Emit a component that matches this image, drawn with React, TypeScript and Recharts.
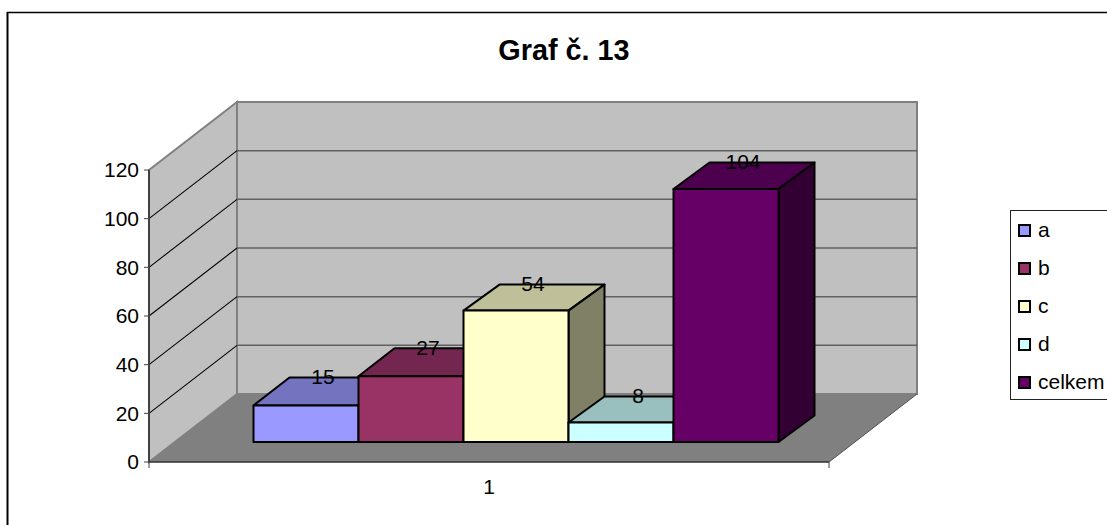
import React from 'react';
import { Bar, BarChart, CartesianGrid, LabelList, Legend, XAxis, YAxis, usePlotArea } from 'recharts';

const categories = ['1'];
const seriesNames = ['a', 'b', 'c', 'd', 'celkem'];
const seriesValues = [15, 27, 54, 8, 104];
const yTicks = [0, 20, 40, 60, 80, 100, 120];

const frontColors = ['#9999FF', '#993366', '#FFFFCC', '#CCFFFF', '#660066'];
const topColors = ['#7373BF', '#732650', '#BFBF99', '#99BFBF', '#4D004D'];
const sideColors = ['#4D4D80', '#4D1A33', '#808066', '#668080', '#330033'];

const rows = categories.map((name) => {
  const row: Record<string, any> = { name };
  seriesNames.forEach((s, i) => {
    row[s] = seriesValues[i];
  });
  return row;
});

const FONT = '"Liberation Sans", Arial, sans-serif';

// oblique projection of the Excel 3D box
const WALL_DX = 88;
const WALL_DY = 68;
const BAR_SHIFT_X = 26;
const BAR_SHIFT_Y = 20;
const BAR_DX = 36;
// the first two boxes come out a bit deeper in the original
const barDepths = [28, 28, 26, 26, 26.5];

const pts = (list: number[][]) => list.map((p) => p.join(',')).join(' ');

const Walls = () => {
  const plot = usePlotArea();
  if (!plot) return null;
  const left = plot.x;
  const right = plot.x + plot.width;
  const top = plot.y;
  const bottom = plot.y + plot.height;
  return (
    <g>
      <polygon
        points={pts([[left, top], [left + WALL_DX, top - WALL_DY], [left + WALL_DX, bottom - WALL_DY], [left, bottom]])}
        fill="#C0C0C0"
        stroke="#808080"
        strokeWidth={2}
      />
      <polygon
        points={pts([[left + WALL_DX, top - WALL_DY], [right + WALL_DX, top - WALL_DY], [right + WALL_DX, bottom - WALL_DY], [left + WALL_DX, bottom - WALL_DY]])}
        fill="#C0C0C0"
        stroke="#808080"
        strokeWidth={2}
      />
      <polygon
        points={pts([[left, bottom], [left + WALL_DX, bottom - WALL_DY], [right + WALL_DX, bottom - WALL_DY], [right, bottom]])}
        fill="#808080"
      />
      <line x1={right} y1={bottom} x2={right + WALL_DX} y2={bottom - WALL_DY} stroke="#505050" strokeWidth={1} />
      <line x1={left} y1={bottom} x2={left} y2={bottom + 6} stroke="#404040" strokeWidth={1} />
      <line x1={right} y1={bottom} x2={right} y2={bottom + 6} stroke="#404040" strokeWidth={1} />
    </g>
  );
};

const renderGridLine = (props: any) => {
  const { x1, x2, y1 } = props;
  // the floor and the top edge are already drawn by the walls
  if (props.index === 0 || props.index === yTicks.length - 1) return <g key={props.key} />;
  return (
    <g key={props.key}>
      <line x1={x1} y1={y1} x2={x1 + WALL_DX} y2={y1 - WALL_DY} stroke="#000" strokeWidth={1.1} />
      <line x1={x1 + WALL_DX} y1={y1 - WALL_DY} x2={x2 + WALL_DX} y2={y1 - WALL_DY} stroke="#606060" strokeWidth={1.5} />
    </g>
  );
};

const makeBox = (i: number) => (props: any) => {
  const { x, y, width, height } = props;
  const fx = x + BAR_SHIFT_X;
  const fy = y - BAR_SHIFT_Y;
  const dy = barDepths[i];
  const line = { stroke: '#000', strokeWidth: 2, strokeLinejoin: 'round' as const };
  return (
    <g>
      <polygon
        points={pts([[fx, fy], [fx + BAR_DX, fy - dy], [fx + width + BAR_DX, fy - dy], [fx + width, fy]])}
        fill={topColors[i]}
        {...line}
      />
      <polygon
        points={pts([[fx + width, fy], [fx + width + BAR_DX, fy - dy], [fx + width + BAR_DX, fy + height - dy], [fx + width, fy + height]])}
        fill={sideColors[i]}
        {...line}
      />
      <rect x={fx} y={fy} width={width} height={height} fill={frontColors[i]} {...line} />
    </g>
  );
};

const makeValue = (i: number) => (props: any) => {
  const { x, y, width, value } = props;
  return (
    <text
      x={x + width / 2 + BAR_SHIFT_X + BAR_DX / 2 - 1}
      y={y - BAR_SHIFT_Y - barDepths[i] - 1}
      textAnchor="middle"
      dominantBaseline="central"
      fontFamily={FONT}
      fontSize={21}
      fill="#000"
    >
      {value}
    </text>
  );
};

const LegendBox = ({ payload }: any) => (
  <div style={{ border: '1px solid #222', background: '#fff', height: 190, boxSizing: 'border-box' }}>
    {(payload || []).map((item: any) => (
      <div key={item.value} style={{ display: 'flex', alignItems: 'center', height: 38, fontFamily: FONT, fontSize: 21, color: '#000' }}>
        <span
          style={{
            display: 'inline-block',
            width: 13,
            height: 13,
            marginLeft: 7,
            marginRight: 7,
            boxSizing: 'border-box',
            border: '2px solid #000',
            background: item.color,
          }}
        />
        {item.value}
      </div>
    ))}
  </div>
);

export default function App() {
  return (
    <div style={{ position: 'absolute', left: 0, top: 0, width: 1107, height: 525, overflow: 'hidden', background: '#fff' }}>
      <BarChart
        width={1107}
        height={525}
        data={rows}
        barGap={0}
        barCategoryGap={78.5}
        margin={{ top: 170, right: 278, bottom: 23, left: 89 }}
      >
        <line x1={7.5} y1={525} x2={7.5} y2={12} stroke="#000" strokeWidth={2} />
        <line x1={7} y1={12.5} x2={1107} y2={12.5} stroke="#000" strokeWidth={1.5} />
        <text x={564} y={50} textAnchor="middle" dominantBaseline="central" fontFamily={FONT} fontWeight="bold" fontSize={28.8} fill="#000">
          Graf č. 13
        </text>
        <Walls />
        <CartesianGrid vertical={false} horizontal={renderGridLine} zIndex={1} />
        <XAxis
          dataKey="name"
          height={40}
          axisLine={{ stroke: '#303030', strokeWidth: 1.5 }}
          tickLine={false}
          tickMargin={11}
          tick={{ fontFamily: FONT, fontSize: 21, fill: '#000' }}
        />
        <YAxis
          width={60}
          domain={[0, 120]}
          ticks={yTicks}
          interval={0}
          axisLine={{ stroke: '#404040', strokeWidth: 2 }}
          tickLine={{ stroke: '#404040' }}
          tickSize={5}
          tickMargin={5}
          tick={{ fontFamily: FONT, fontSize: 21, fill: '#000' }}
        />
        {seriesNames.map((s, i) => (
          <Bar key={s} dataKey={s} name={s} fill={frontColors[i]} shape={makeBox(i)} isAnimationActive={false}>
            <LabelList dataKey={s} content={makeValue(i)} />
          </Bar>
        ))}
        <Legend
          layout="vertical"
          align="center"
          verticalAlign="middle"
          width={120}
          itemSorter={null}
          wrapperStyle={{ left: 1010, top: 210 }}
          content={LegendBox}
        />
      </BarChart>
    </div>
  );
}
